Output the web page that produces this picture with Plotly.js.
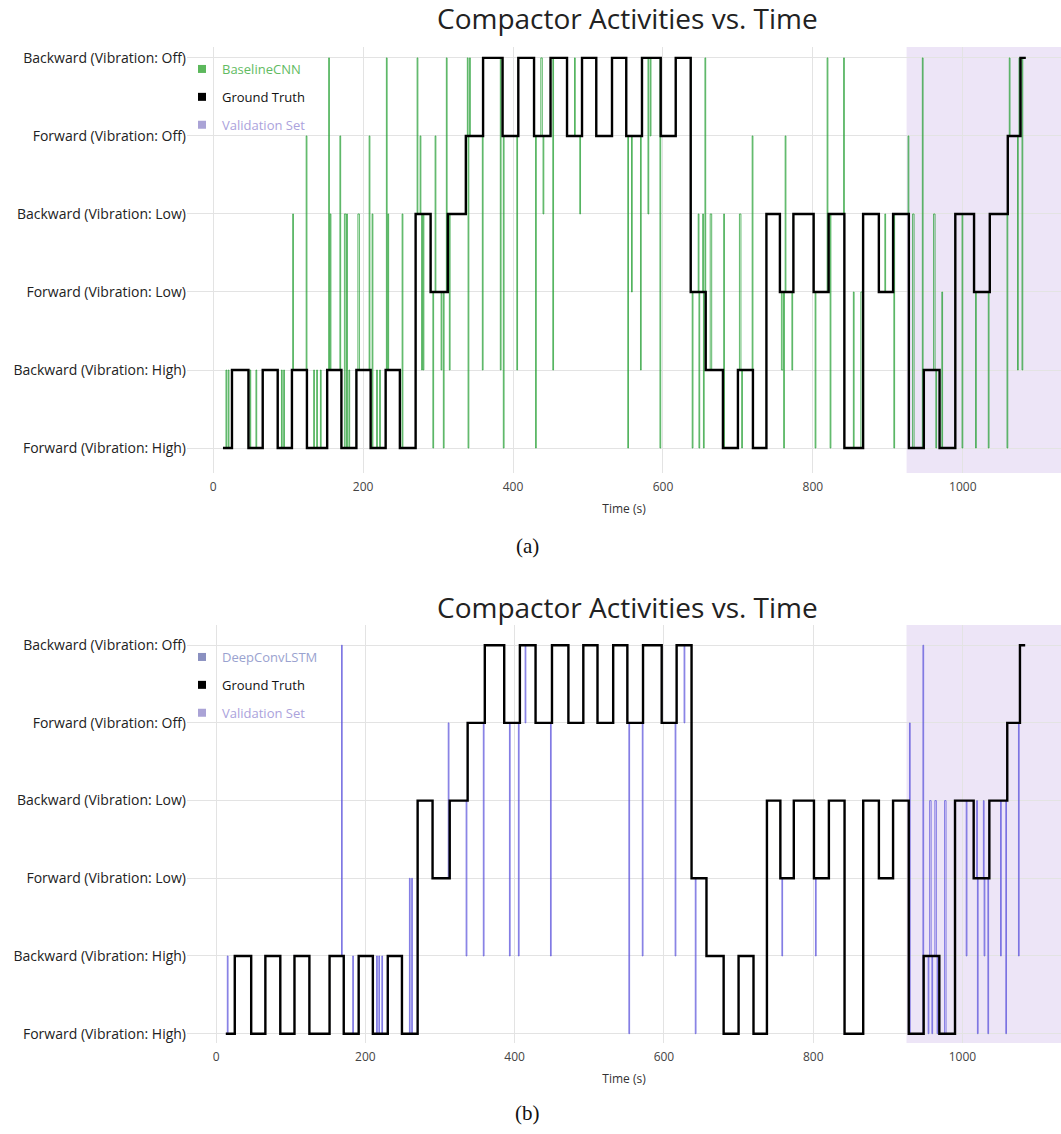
<!DOCTYPE html>
<html><head><meta charset="utf-8">
<script src="https://cdn.plot.ly/plotly-3.0.1.min.js"></script>
<style>html,body{margin:0;padding:0;background:#fff}#chart{width:1061px;height:1134px}</style>
</head><body><div id="chart"></div>
<script>
// ---- data ----
const levels = ['Forward (Vibration: High)','Backward (Vibration: High)','Forward (Vibration: Low)','Backward (Vibration: Low)','Forward (Vibration: Off)','Backward (Vibration: Off)'];
const xTicks = [0, 200, 400, 600, 800, 1000];

// ground truth: time (s) at which each activity starts, and activity index into levels
const gtTime  = [13,25,47,66,86,105,125,152,171,191,210,230,249,270,290,313,337,360,386,407,428,450,472,492,511,532,551,572,597,617,637,657,680,700,720,738,756,774,801,821,842,867,888,907,928,948,969,990,1015,1036,1060,1077];
const gtLevel = [0,1,0,1,0,1,0,1,0,1,0,1,0,3,2,3,4,5,4,5,4,5,4,5,4,5,4,5,4,5,2,1,0,1,0,3,2,3,2,3,0,3,2,3,0,1,0,3,2,3,4,5];
const gtEnd = 1084;

// BaselineCNN misclassified samples: start time, predicted activity, duration (s)
const cnnErrTime  = [17,20,49,57,91,94,106,124,134,138,143,154,156,169,175,178,181,193,208,212,218,222,231,233,252,272,276,278,280,293,296,304,307,311,315,339,340,342,359,383,387,405,430,437,440,453,482,489,553,558,570,580,583,596,639,647,648,653,654,656,663,681,702,705,719,758,761,763,772,803,819,823,841,854,864,896,908,927,933,946,961,964,972,999,1017,1034,1059,1062,1073,1075,1079];
const cnnErrLevel = [1,1,1,1,1,1,3,4,1,1,1,5,3,4,3,3,1,3,4,3,1,1,5,3,3,5,4,1,1,0,4,1,0,5,1,5,0,5,1,1,0,1,0,5,3,1,5,3,0,2,1,3,4,0,0,3,0,3,0,5,3,3,3,0,4,1,0,4,1,0,5,0,5,2,2,3,0,4,3,5,3,0,2,0,0,0,0,5,1,5,1];
const cnnErrDur   = [1,1,1,1,1,1,1,1,1,1,1,1,1,1,2,1,1,2,1,1,1,1,1,1,1,1,1,1,1,1,1,1,1,1,1,1,1,1,1,1,1,1,1,2,1,1,1,1,1,1,1,1,1,1,1,1,1,1,1,1,2,1,2,1,1,2,1,1,1,1,1,1,1,1,3,1,1,1,2,1,2,1,1,1,1,1,1,1,1,1,1];

// DeepConvLSTM misclassified samples
const lstmErrTime  = [15,168,183,215,218,222,259,262,311,335,358,393,405,414,448,553,571,615,627,642,758,803,929,947,954,956,959,963,966,976,1005,1019,1020,1028,1029,1034,1051,1058,1075];
const lstmErrLevel = [1,5,1,1,1,1,2,2,4,1,1,1,1,4,1,0,1,1,4,0,1,1,4,5,0,3,0,3,0,3,1,3,0,3,1,0,1,0,1];
const lstmErrDur   = [1,1,1,1,1,1,1,1,1,1,1,1,1,1,1,1,1,1,1,1,1,1,1,1,1,2,1,2,1,2,1,1,1,1,1,1,1,1,1];

const validationStart = 925;
const validationEnd = 1140;

// ---- build series ----
function gtAt(t){
  let l = gtLevel[0];
  for (let i = 0; i < gtTime.length; i++) { if (gtTime[i] <= t) l = gtLevel[i]; else break; }
  return l;
}
function buildPred(errT, errL, errD){
  const set = new Set(gtTime.concat([gtEnd]));
  errT.forEach((t, i) => { set.add(t); set.add(t + errD[i]); });
  const ts = [...set].filter(t => t >= gtTime[0] && t <= gtEnd).sort((a, b) => a - b);
  const x = [], y = [];
  ts.forEach(t => {
    let l = gtAt(t);
    errT.forEach((e, i) => { if (t >= e && t < e + errD[i]) l = errL[i]; });
    x.push(t); y.push(levels[l]);
  });
  return {x, y};
}
const gtX = gtTime.concat([gtEnd]);
const gtY = gtLevel.concat([gtLevel[gtLevel.length - 1]]).map(i => levels[i]);
const cnn = buildPred(cnnErrTime, cnnErrLevel, cnnErrDur);
const lstm = buildPred(lstmErrTime, lstmErrLevel, lstmErrDur);

const GREEN = 'rgba(40,160,55,0.75)';
const BLUE = 'rgba(95,85,220,0.75)';
const VALFILL = 'rgba(190,160,225,0.27)';

const traces = [
  {x: cnn.x, y: cnn.y, xaxis: 'x', yaxis: 'y', mode: 'lines', line: {shape: 'hv', color: GREEN, width: 1}, showlegend: false, hoverinfo: 'skip'},
  {x: gtX, y: gtY, xaxis: 'x', yaxis: 'y', mode: 'lines', line: {shape: 'hv', color: '#000', width: 2.4}, showlegend: false, hoverinfo: 'skip'},
  {x: lstm.x, y: lstm.y, xaxis: 'x2', yaxis: 'y2', mode: 'lines', line: {shape: 'hv', color: BLUE, width: 1}, showlegend: false, hoverinfo: 'skip'},
  {x: gtX, y: gtY, xaxis: 'x2', yaxis: 'y2', mode: 'lines', line: {shape: 'hv', color: '#000', width: 2.4}, showlegend: false, hoverinfo: 'skip'},
  // legend entries
  {x: [null], y: [null], xaxis: 'x', yaxis: 'y', mode: 'markers', marker: {symbol: 'square', size: 8, color: '#5cb85c'}, name: '<span style="color:#62bb62">BaselineCNN</span>', legend: 'legend', legendgroup: 'a1'},
  {x: [null], y: [null], xaxis: 'x', yaxis: 'y', mode: 'markers', marker: {symbol: 'square', size: 8, color: '#000'}, name: 'Ground Truth', legend: 'legend', legendgroup: 'a2'},
  {x: [null], y: [null], xaxis: 'x', yaxis: 'y', mode: 'markers', marker: {symbol: 'square', size: 8, color: '#aaa3d6'}, name: '<span style="color:#aba2dc">Validation Set</span>', legend: 'legend', legendgroup: 'a3'},
  {x: [null], y: [null], xaxis: 'x2', yaxis: 'y2', mode: 'markers', marker: {symbol: 'square', size: 8, color: '#8a90c0'}, name: '<span style="color:#9aa2cf">DeepConvLSTM</span>', legend: 'legend2', legendgroup: 'b1'},
  {x: [null], y: [null], xaxis: 'x2', yaxis: 'y2', mode: 'markers', marker: {symbol: 'square', size: 8, color: '#000'}, name: 'Ground Truth', legend: 'legend2', legendgroup: 'b2'},
  {x: [null], y: [null], xaxis: 'x2', yaxis: 'y2', mode: 'markers', marker: {symbol: 'square', size: 8, color: '#aaa3d6'}, name: '<span style="color:#aba2dc">Validation Set</span>', legend: 'legend2', legendgroup: 'b3'}
];

const H = 1134, W = 1061;
const py = px => 1 - px / H;
const xDom = [187 / W, 1];

function xAxis(range, dom){
  return {domain: xDom, anchor: dom, range: range, tickvals: xTicks, ticktext: xTicks.map(String), showgrid: true, gridcolor: '#e3e3e3', gridwidth: 1,
    zeroline: false, showline: false, ticks: '', ticklabelstandoff: 5, tickfont: {size: 12, color: '#444'},
    title: {text: 'Time (s)', font: {size: 12, color: '#333'}, standoff: 10}};
}
function yAxis(range, dom, anchor){
  return {domain: dom, anchor: anchor, type: 'category', categoryorder: 'array', categoryarray: levels, range: range,
    showgrid: true, gridcolor: '#e3e3e3', gridwidth: 1, zeroline: false, showline: false, ticks: '', tickfont: {size: 14, color: '#222'}};
}

const layout = {
  width: W, height: H,
  margin: {l: 0, r: 0, t: 0, b: 0},
  paper_bgcolor: '#fff', plot_bgcolor: '#fff',
  font: {family: 'Open Sans, sans-serif', color: '#222'},
  xaxis: xAxis([-35, 1131], 'y'),
  yaxis: yAxis([-0.32, 5.14], [py(473), py(47)], 'x'),
  xaxis2: xAxis([-39, 1132], 'y2'),
  yaxis2: yAxis([-0.12, 5.26], [py(1043), py(625)], 'x2'),
  legend: {x: 182 / W, y: py(54), xanchor: 'left', yanchor: 'top', bgcolor: 'rgba(0,0,0,0)', font: {size: 13, color: '#111'}, tracegroupgap: 8, itemwidth: 30},
  legend2: {x: 182 / W, y: py(642), xanchor: 'left', yanchor: 'top', bgcolor: 'rgba(0,0,0,0)', font: {size: 13, color: '#111'}, tracegroupgap: 8, itemwidth: 30},
  shapes: [
    {type: 'rect', xref: 'x', yref: 'y domain', x0: validationStart, x1: validationEnd, y0: 0, y1: 1, fillcolor: VALFILL, line: {width: 0}, layer: 'below'},
    {type: 'rect', xref: 'x2', yref: 'y2 domain', x0: validationStart, x1: validationEnd, y0: 0, y1: 1, fillcolor: VALFILL, line: {width: 0}, layer: 'below'}
  ],
  annotations: [
    {text: 'Compactor Activities vs. Time', xref: 'paper', yref: 'paper', x: 627 / W, y: py(18), xanchor: 'center', yanchor: 'middle', showarrow: false, font: {size: 28, color: '#222'}},
    {text: 'Compactor Activities vs. Time', xref: 'paper', yref: 'paper', x: 627 / W, y: py(607), xanchor: 'center', yanchor: 'middle', showarrow: false, font: {size: 28, color: '#222'}},
    {text: '(a)', xref: 'paper', yref: 'paper', x: 527 / W, y: py(546), xanchor: 'center', yanchor: 'middle', showarrow: false, font: {size: 21, color: '#111', family: 'Liberation Serif, serif'}},
    {text: '(b)', xref: 'paper', yref: 'paper', x: 527 / W, y: py(1113), xanchor: 'center', yanchor: 'middle', showarrow: false, font: {size: 21, color: '#111', family: 'Liberation Serif, serif'}}
  ]
};

Plotly.newPlot('chart', traces, layout, {staticPlot: true, displayModeBar: false});
</script>
</body></html>
